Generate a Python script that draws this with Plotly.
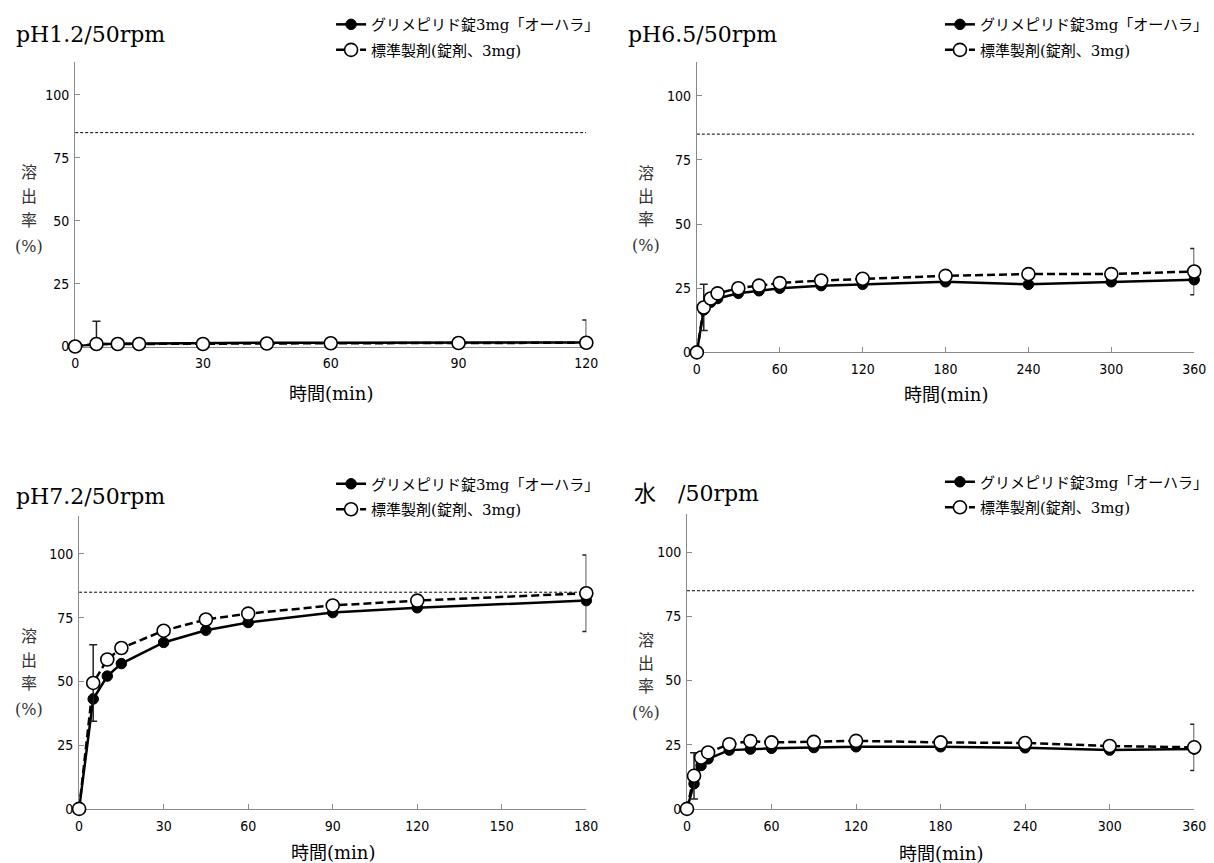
import plotly.graph_objects as go

W, H = 1214, 863

# ---------------- data ----------------
panel_titles = ["pH1.2/50rpm", "pH6.5/50rpm", "pH7.2/50rpm", "水\u3000/50rpm"]
test_name = "グリメピリド錠3mg「オーハラ」"
ref_name = "標準製剤(錠剤、3mg)"

t_ph12 = [0, 5, 10, 15, 30, 45, 60, 90, 120]
test_ph12 = [0, 0.9, 1.1, 1.2, 1.4, 1.5, 1.5, 1.5, 1.6]
ref_ph12 = [0, 1.0, 1.0, 1.0, 1.0, 1.2, 1.3, 1.4, 1.5]
err_ph12 = [None, 9, None, None, None, None, None, None, 9]

t_ph65 = [0, 5, 10, 15, 30, 45, 60, 90, 120, 180, 240, 300, 360]
test_ph65 = [0, 16.5, 19.5, 21.0, 23.0, 24.0, 25.0, 26.0, 26.5, 27.5, 26.5, 27.5, 28.3]
ref_ph65 = [0, 17.5, 21.0, 23.0, 25.0, 26.0, 27.0, 28.0, 28.7, 29.8, 30.5, 30.5, 31.5]
err_ph65 = [None, 9, None, None, None, None, None, None, None, None, None, None, 9]

t_ph72 = [0, 5, 10, 15, 30, 45, 60, 90, 120, 180]
test_ph72 = [0, 43.1, 52.1, 57.0, 65.3, 70.1, 73.1, 77.0, 78.9, 81.7]
ref_ph72 = [0, 49.4, 58.6, 63.1, 69.9, 74.3, 76.6, 79.8, 81.7, 84.6]
err_ph72 = [None, 15, None, None, None, None, None, None, None, 15]

t_water = [0, 5, 10, 15, 30, 45, 60, 90, 120, 180, 240, 300, 360]
test_water = [0, 9.8, 16.9, 19.5, 22.9, 23.3, 23.6, 23.9, 24.2, 24.2, 23.8, 22.9, 23.3]
ref_water = [0, 12.9, 20.0, 22.0, 25.2, 26.4, 25.9, 26.1, 26.5, 25.9, 25.7, 24.5, 24.0]
err_water = [None, 9, None, None, None, None, None, None, None, None, None, None, 9]

x_ticks_120 = [0, 30, 60, 90, 120]
x_ticks_180 = [0, 30, 60, 90, 120, 150, 180]
x_ticks_360 = [0, 60, 120, 180, 240, 300, 360]
y_ticks = [0, 25, 50, 75, 100]
y_max_top = 113
y_max_bottom = 115
criterion = 85

x_title = "時間(min)"
y_title_parts = ["溶", "出", "率", "(%)"]

panels = [
    dict(t=t_ph12, test=test_ph12, ref=ref_ph12, err=err_ph12, xt=x_ticks_120, ymax=y_max_top),
    dict(t=t_ph65, test=test_ph65, ref=ref_ph65, err=err_ph65, xt=x_ticks_360, ymax=y_max_top),
    dict(t=t_ph72, test=test_ph72, ref=ref_ph72, err=err_ph72, xt=x_ticks_180, ymax=y_max_bottom),
    dict(t=t_water, test=test_water, ref=ref_water, err=err_water, xt=x_ticks_360, ymax=y_max_bottom),
]

# ---------------- layout geometry (pixels) ----------------
# plot-area boxes: (left, right, top, bottom)
boxes = [
    (64, 582, 49, 338),
    (694, 1198, 49, 344),
    (68, 582, 510, 808),
    (684, 1198, 508, 808),
]
title_pos = [(2, 21), (622, 21), (2, 490), (628, 487)]
legend_pos = [(601, -6), (1218, -6), (601, 461), (1218, 459)]
ytitle_pos = [(17, [161, 186, 210, 236]), (642, [162, 186, 209, 235]),
              (17, [633, 657, 681, 707]), (642, [637, 660, 684, 710])]
xtitle_y = [386, 387, 852, 853]

def px(x):
    return x / W

def py(y):
    return 1 - y / H

SERIF = "DejaVu Serif, Noto Sans CJK JP"
TICKFONT = dict(family="Liberation Sans Narrow, Arial Narrow, DejaVu Sans Condensed, Liberation Sans",
                size=14, color="#000")
AXIS_COLOR = "#8a8a8a"

fig = go.Figure()
annotations = []
shapes = []

for i, p in enumerate(panels):
    k = "" if i == 0 else str(i + 1)
    xa, ya = "x" + k, "y" + k
    lg = "legend" + k
    err_plus = [e for e in p["err"]]
    err_minus = [None if e is None else min(e, v) for e, v in zip(p["err"], p["ref"])]

    fig.add_trace(go.Scatter(
        x=p["t"], y=p["test"], name=test_name, mode="lines+markers",
        line=dict(color="#000", width=2.5),
        marker=dict(symbol="circle", size=10.5, color="#000", line=dict(color="#000", width=1)),
        xaxis=xa, yaxis=ya, legend=lg, legendgroup="a", cliponaxis=False,
    ))
    fig.add_trace(go.Scatter(
        x=p["t"], y=p["ref"], name=ref_name, mode="lines+markers",
        line=dict(color="#000", width=2.5, dash="8px,4px"),
        marker=dict(symbol="circle", size=13, color="#fff", line=dict(color="#000", width=1.6)),
        error_y=dict(type="data", symmetric=False, array=err_plus, arrayminus=err_minus,
                     color="#222", thickness=1.5, width=4),
        xaxis=xa, yaxis=ya, legend=lg, legendgroup="b", cliponaxis=False,
    ))

    l, r, t, b = boxes[i]
    xmax = p["xt"][-1]
    fig.layout["xaxis" + k] = dict(
        domain=[px(l), px(r)], range=[0, xmax], anchor=ya,
        tickvals=p["xt"], ticks="inside", ticklen=5, tickcolor=AXIS_COLOR, tickwidth=1,
        showline=True, linecolor=AXIS_COLOR, linewidth=1, showgrid=False, zeroline=False,
        tickfont=TICKFONT, ticklabelstandoff=4, layer="below traces", fixedrange=True,
    )
    fig.layout["yaxis" + k] = dict(
        domain=[py(b), py(t)], range=[0, p["ymax"]], anchor=xa,
        tickvals=y_ticks, ticks="inside", ticklen=5, tickcolor=AXIS_COLOR, tickwidth=1,
        showline=True, linecolor=AXIS_COLOR, linewidth=1, showgrid=False, zeroline=False,
        tickfont=TICKFONT, ticklabelstandoff=2, layer="below traces", fixedrange=True,
    )

    shapes.append(dict(type="line", xref=xa, yref=ya, x0=0, x1=xmax, y0=criterion, y1=criterion,
                       line=dict(color="#000", width=1, dash="3px,2px"), layer="below"))

    tx, ty = title_pos[i]
    annotations.append(dict(text=panel_titles[i], xref="paper", yref="paper", x=px(tx), y=py(ty),
                            xanchor="left", yanchor="middle", showarrow=False,
                            font=dict(family=SERIF, size=22, color="#000")))
    yx, yys = ytitle_pos[i]
    for part, yy in zip(y_title_parts, yys):
        annotations.append(dict(text=part, xref="paper", yref="paper", x=px(yx), y=py(yy),
                                xanchor="center", yanchor="middle", showarrow=False,
                                font=dict(family=SERIF, size=16, color="#333")))
    annotations.append(dict(text=x_title, xref="paper", yref="paper", x=px((l + r) / 2), y=py(xtitle_y[i]),
                            xanchor="center", yanchor="middle", showarrow=False,
                            font=dict(family=SERIF, size=18, color="#000")))

    lx, ly = legend_pos[i]
    fig.layout[lg] = dict(
        x=px(lx), y=py(ly), xanchor="right", yanchor="top",
        bgcolor="rgba(0,0,0,0)", borderwidth=0,
        font=dict(family=SERIF, size=15, color="#000"),
        traceorder="grouped", tracegroupgap=3, itemwidth=30,
    )

fig.update_layout(
    width=W, height=H, margin=dict(l=0, r=0, t=0, b=0),
    paper_bgcolor="#fff", plot_bgcolor="rgba(0,0,0,0)",
    showlegend=True, annotations=annotations, shapes=shapes,
)

fig.write_html("out.html")
